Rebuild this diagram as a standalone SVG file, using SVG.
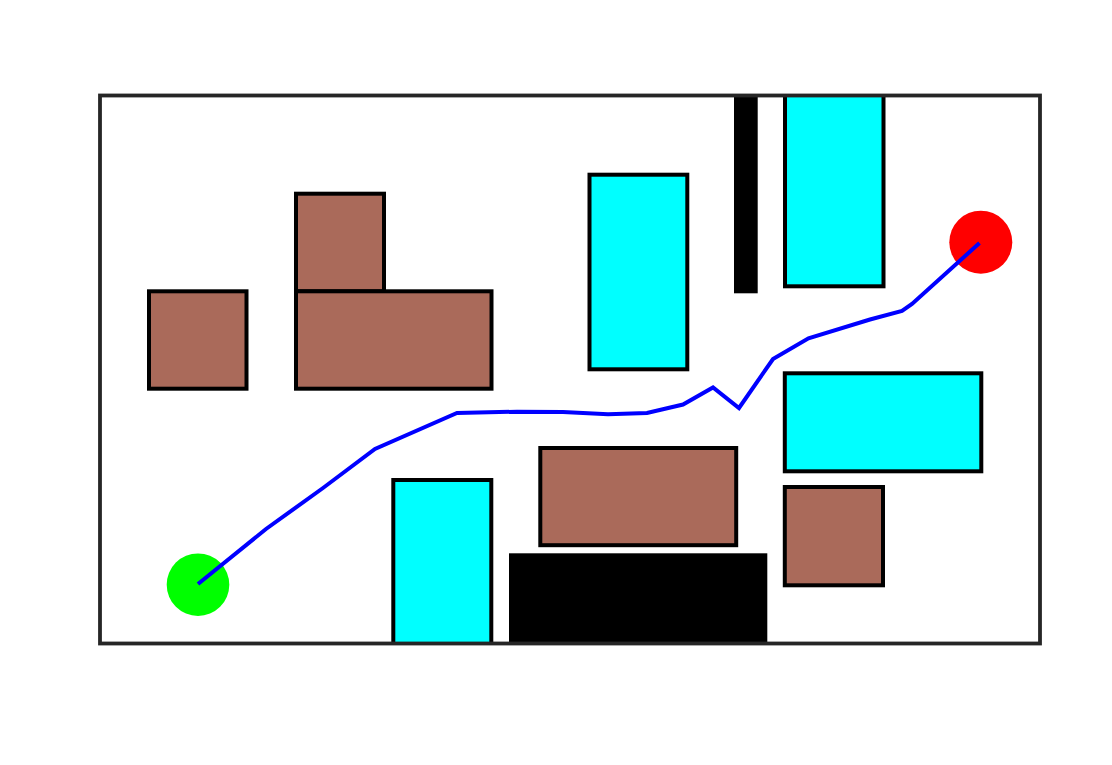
<svg xmlns="http://www.w3.org/2000/svg" width="1112" height="765" viewBox="0 0 1112 765">
<style>
.brown{fill:#aa6a5a;stroke:#000;stroke-width:4}
.cyan{fill:#00ffff;stroke:#000;stroke-width:4}
.wall{fill:#000}
.frame{fill:none;stroke:#262626;stroke-width:3.8}
.path{fill:none;stroke:#0000ff;stroke-width:4;stroke-linejoin:miter}
</style>
<defs>
<clipPath id="area"><rect x="100" y="95.5" width="940" height="549.5"/></clipPath>
</defs>
<rect x="0" y="0" width="1112" height="765" fill="#fff"/>
<g id="obstacles" clip-path="url(#area)">
<rect id="brown1" class="brown" x="149" y="291.3" width="97.5" height="97.4"/>
<rect id="brown2" class="brown" x="296" y="193.7" width="88" height="97.6"/>
<rect id="brown3" class="brown" x="296" y="291.3" width="195.5" height="97.4"/>
<rect id="cyan1" class="cyan" x="589.5" y="174.7" width="97.8" height="194.6"/>
<rect id="wall1" class="wall" x="734" y="90" width="23.7" height="203.3"/>
<rect id="cyan2" class="cyan" x="785" y="90" width="98.5" height="196.3"/>
<rect id="cyan3" class="cyan" x="784.8" y="373.3" width="196.5" height="98"/>
<rect id="brown4" class="brown" x="784.8" y="487" width="98.2" height="98.3"/>
<rect id="brown5" class="brown" x="540.3" y="448" width="195.9" height="97.2"/>
<rect id="wall2" class="wall" x="509" y="553.3" width="258.3" height="100"/>
<rect id="cyan4" class="cyan" x="393.3" y="480" width="98" height="175"/>
</g>
<rect id="frame" class="frame" x="100" y="95.5" width="940" height="548"/>
<g id="start"><circle cx="198" cy="584.7" r="31.3" fill="#00ff00"/></g>
<g id="goal"><circle cx="980.8" cy="242.2" r="31.5" fill="#ff0000"/></g>
<g id="connectors">
<polyline class="path" points="198,584 266,529 323,488 375,449 457,413 517,411.7 563,412 608,414.3 647,413 683,404.5 713,387.5 739,408 773,359 808.5,338.3 870,319.5 902,311 912,304 979.5,243"/>
</g>
</svg>
